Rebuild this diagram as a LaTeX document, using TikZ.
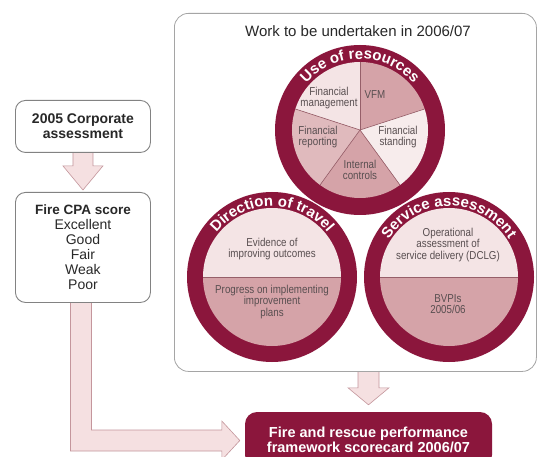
\documentclass[tikz,border=0pt]{standalone}
\usepackage{fontspec}
\setmainfont{Liberation Sans}
\newfontfamily\narrowfont[FakeStretch=0.85]{Liberation Sans}
\usetikzlibrary{calc,decorations.text}

\definecolor{ringred}{RGB}{139,22,60}
\definecolor{pinkA}{RGB}{244,228,229}
\definecolor{pinkAA}{RGB}{247,236,236}
\definecolor{pinkB}{RGB}{224,186,189}
\definecolor{pinkC}{RGB}{213,163,168}
\definecolor{arrowfill}{RGB}{245,224,225}
\definecolor{arrowline}{RGB}{196,150,156}
\definecolor{boxline}{RGB}{165,165,165}
\definecolor{sideline}{RGB}{130,130,130}
\definecolor{slicesep}{RGB}{150,95,105}
\definecolor{labelgray}{RGB}{88,78,80}
\definecolor{darktext}{RGB}{40,40,40}

\pgfdeclarelayer{background}
\pgfsetlayers{background,main}

\tikzset{
  frame/.style={draw=boxline, line width=0.8pt, fill=white, rounded corners=14pt, inner sep=0pt},
  sidebox/.style={draw=sideline, line width=0.9pt, fill=white, rounded corners=10pt,
    align=center, inner sep=0pt, minimum width=135pt, text=darktext},
  blockarrow/.style={fill=arrowfill, draw=arrowline, line width=0.6pt, line join=miter},
  ringdisc/.style={circle, fill=ringred, minimum size=170pt, inner sep=0pt},
  slicelabel/.style={align=center, text=labelgray, inner sep=1pt,
    font=\narrowfont\fontsize{11.5}{11.5}\selectfont},
  divider/.style={draw=slicesep, line width=0.6pt},
  scorebox/.style={fill=ringred, rounded corners=12pt, text=white, align=center,
    inner sep=0pt, minimum width=247pt, minimum height=55pt,
    font=\bfseries\fontsize{14.5}{15}\selectfont},
  ringtext/.style={decorate, decoration={text along path, text align=center,
    text={|\fontsize{15}{15}\selectfont\bfseries\color{white}|#1}}}
}

\begin{document}
\begin{tikzpicture}[x=1pt,y=1pt]
\clip (0,0) rectangle (538,-457);

% ---- left column ----
\node[sidebox, minimum height=52pt, anchor=north west,
  font=\bfseries\fontsize{14}{15}\selectfont] (corp) at (15,-100)
  {2005 Corporate\\assessment};
\node[sidebox, minimum height=110pt, anchor=north west,
  font=\fontsize{14}{15}\selectfont] (cpa) at (15,-192)
  {{\bfseries\fontsize{13.5}{15}\selectfont Fire CPA score}\\Excellent\\Good\\Fair\\Weak\\Poor};

% ---- work programme frame ----
\node[frame, minimum width=362pt, minimum height=358pt, anchor=north west] (work) at (174,-13) {};
\node[font=\fontsize{15}{18}\selectfont, text=darktext] (title) at (358,-31)
  {Work to be undertaken in 2006/07};

% ---- scorecard ----
\node[scorebox] (score) at (368.5,-439.5)
  {Fire and rescue performance\\framework scorecard 2006/07};

% ---- Use of resources ----
\node[ringdisc] (uor) at (360,-130) {};
\begin{scope}[shift={(uor.center)}]
  \fill[pinkA]  (0,0) -- (90:68)  arc[start angle=90,  end angle=162, radius=68] -- cycle;
  \fill[pinkC]  (0,0) -- (18:68)  arc[start angle=18,  end angle=90,  radius=68] -- cycle;
  \fill[pinkAA] (0,0) -- (-54:68) arc[start angle=-54, end angle=18,  radius=68] -- cycle;
  \fill[pinkC]  (0,0) -- (234:68) arc[start angle=234, end angle=306, radius=68] -- cycle;
  \fill[pinkB]  (0,0) -- (162:68) arc[start angle=162, end angle=234, radius=68] -- cycle;
  \foreach \a in {90,162,234,306,18} \draw[divider] (0,0) -- (\a:68);
  \path[ringtext={Use of resources}] (160:71) arc[start angle=160, end angle=20, radius=71];
\end{scope}
\node[slicelabel] (finman) at (329,-98) {Financial\\management};
\node[slicelabel] (vfm) at (375,-95) {VFM};
\node[slicelabel] (finstand) at (398,-137) {Financial\\standing};
\node[slicelabel] (finrep) at (318,-137) {Financial\\reporting};
\node[slicelabel] (intctl) at (360,-170) {Internal\\controls};

% ---- Direction of travel ----
\node[ringdisc] (dot) at (272,-277) {};
\begin{scope}[shift={(dot.center)}]
  \fill[pinkA] (0:69) arc[start angle=0, end angle=180, radius=69] -- cycle;
  \fill[pinkC] (180:69) arc[start angle=180, end angle=360, radius=69] -- cycle;
  \draw[divider] (180:69) -- (0:69);
  \path[ringtext={Direction of travel}] (162:71) arc[start angle=162, end angle=18, radius=71];
\end{scope}
\node[slicelabel] (evid) at (272,-249) {Evidence of\\improving outcomes};
\node[slicelabel] (progr) at (272,-302) {Progress on implementing\\improvement\\plans};

% ---- Service assessment ----
\node[ringdisc] (sva) at (449,-277) {};
\begin{scope}[shift={(sva.center)}]
  \fill[pinkA] (0:69) arc[start angle=0, end angle=180, radius=69] -- cycle;
  \fill[pinkC] (180:69) arc[start angle=180, end angle=360, radius=69] -- cycle;
  \draw[divider] (180:69) -- (0:69);
  \path[ringtext={Service assessment}] (165:71) arc[start angle=165, end angle=15, radius=71];
\end{scope}
\node[slicelabel] (opas) at (448,-245) {Operational\\assessment of\\service delivery (DCLG)};
\node[slicelabel] (bvpi) at (448,-304) {BVPIs\\2005/06};

% ---- page background and block arrows (behind the boxes) ----
\begin{pgfonlayer}{background}
  \fill[white] (0,0) rectangle (538,-457);
  % corporate assessment -> CPA score
  \filldraw[blockarrow]
    ($(corp.south)+(-10,4)$) -- ($(corp.south)+(-10,-13)$) -- ($(corp.south)+(-20,-13)$)
    -- ($(cpa.north)+(0,2)$)
    -- ($(corp.south)+(20,-13)$) -- ($(corp.south)+(10,-13)$) -- ($(corp.south)+(10,4)$) -- cycle;
  % work programme -> scorecard
  \coordinate (w2) at (work.south -| score.north);
  \filldraw[blockarrow]
    ($(w2)+(-10.5,4)$) -- ($(w2)+(-10.5,-16)$) -- ($(w2)+(-20.5,-16)$)
    -- ($(score.north)+(0,7)$)
    -- ($(w2)+(20.5,-16)$) -- ($(w2)+(10.5,-16)$) -- ($(w2)+(10.5,4)$) -- cycle;
  % CPA score -> scorecard
  \coordinate (c3) at ($(cpa.south)+(-2,0)$);
  \coordinate (t3) at ($(score.west)+(-5,-1)$);
  \coordinate (k3) at (c3 |- t3);
  \filldraw[blockarrow]
    ($(c3)+(-10.5,4)$) -- ($(k3)+(-10.5,-10.5)$) -- ($(t3)+(-18,-10.5)$)
    -- ($(t3)+(-18,-19.5)$) -- (t3) -- ($(t3)+(-18,19.5)$) -- ($(t3)+(-18,10.5)$)
    -- ($(k3)+(10.5,10.5)$) -- ($(c3)+(10.5,4)$) -- cycle;
\end{pgfonlayer}
\end{tikzpicture}
\end{document}
